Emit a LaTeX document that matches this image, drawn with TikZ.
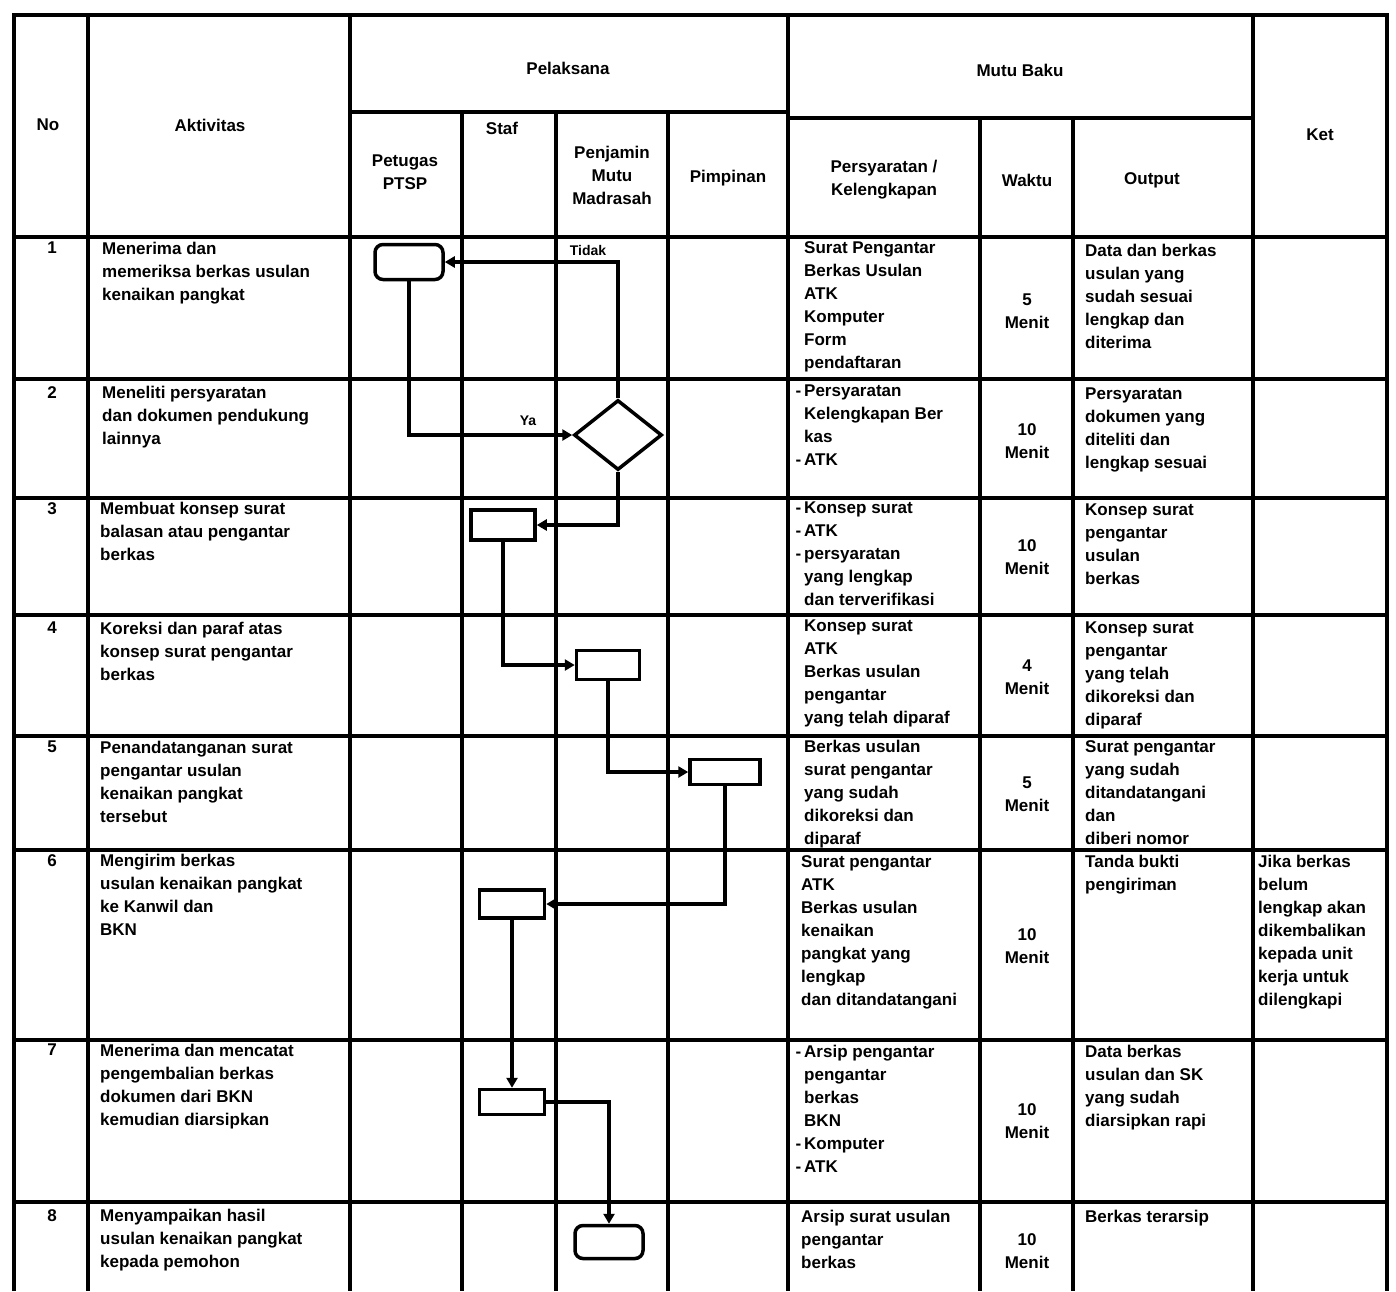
\documentclass[tikz,border=0pt]{standalone}
\usepackage{fontspec}
\setmainfont{Liberation Sans}
\usetikzlibrary{arrows.meta,shapes.geometric}
\begin{document}
\begin{tikzpicture}[x=1pt,y=-1pt,
  gridline/.style={line width=4pt},
  txt/.style={font=\fontsize{17}{23}\selectfont\bfseries, align=left, anchor=north west, inner sep=0pt},
  mtxt/.style={font=\fontsize{17}{23}\selectfont\bfseries, align=left, anchor=north west, inner sep=0pt},
  ctxt/.style={font=\fontsize{17}{23}\selectfont\bfseries, align=center, inner sep=0pt},
  lbl/.style={font=\fontsize{14}{16}\selectfont\bfseries, inner sep=0pt},
  proc/.style={draw, line width=3.5pt, fill=white, rectangle, inner sep=0pt},
  term/.style={proc, rounded corners=8pt},
  decision/.style={draw, diamond, line width=3.5pt, fill=white, inner sep=0pt},
  flow/.style={line width=3.5pt, -{Triangle[length=10pt,width=11pt]}}
]
\useasboundingbox (0,0) rectangle (1396,1291);

% ---------- table grid ----------
\draw[gridline] (14,1291) -- (14,15) -- (1387,15) -- (1387,1291);
\draw[gridline] (88,15) -- (88,1291);
\draw[gridline] (350,15) -- (350,1291);
\draw[gridline] (788,15) -- (788,1291);
\draw[gridline] (1253,15) -- (1253,1291);
\draw[gridline] (350,112) -- (788,112);
\draw[gridline] (462,112) -- (462,1291);
\draw[gridline] (556,112) -- (556,1291);
\draw[gridline] (668,112) -- (668,1291);
\draw[gridline] (788,118) -- (1253,118);
\draw[gridline] (980,118) -- (980,1291);
\draw[gridline] (1073,118) -- (1073,1291);
\foreach \yy in {237,379,498,615,736,850,1040,1202}
  \draw[gridline] (14,\yy) -- (1387,\yy);

% ---------- headers ----------
\node[ctxt] (hno) at (48,125) {No};
\node[ctxt] (hakt) at (210,125) {Aktivitas};
\node[ctxt] (hpel) at (568,68) {Pelaksana};
\node[ctxt] (hp1) at (405,172) {Petugas\\PTSP};
\node[ctxt] (hp2) at (502,128) {Staf};
\node[ctxt] (hp3) at (612,175) {Penjamin\\Mutu\\Madrasah};
\node[ctxt] (hp4) at (728,178) {Pimpinan};
\node[ctxt] (hmb) at (1020,70) {Mutu Baku};
\node[ctxt] (hm1) at (884,180) {Persyaratan /\\Kelengkapan};
\node[ctxt] (hm2) at (1027,180) {Waktu};
\node[ctxt] (hm3) at (1152,180) {Output};
\node[ctxt] (hket) at (1320,135) {Ket};

% ---------- row numbers ----------
\node[ctxt, anchor=north] (n1) at (52,242) {1};
\node[ctxt, anchor=north] (n2) at (52,386) {2};
\node[ctxt, anchor=north] (n3) at (52,502) {3};
\node[ctxt, anchor=north] (n4) at (52,622) {4};
\node[ctxt, anchor=north] (n5) at (52,741) {5};
\node[ctxt, anchor=north] (n6) at (52,854) {6};
\node[ctxt, anchor=north] (n7) at (52,1044) {7};
\node[ctxt, anchor=north] (n8) at (52,1209) {8};

% ---------- activities ----------
\node[txt] (a1) at (102,242) {Menerima dan\\memeriksa berkas usulan\\kenaikan pangkat};
\node[txt] (a2) at (102,386) {Meneliti persyaratan\\dan dokumen pendukung\\lainnya};
\node[txt] (a3) at (100,502) {Membuat konsep surat\\balasan atau pengantar\\berkas};
\node[txt] (a4) at (100,622) {Koreksi dan paraf atas\\konsep surat pengantar\\berkas};
\node[txt] (a5) at (100,741) {Penandatanganan surat\\pengantar usulan\\kenaikan pangkat\\tersebut};
\node[txt] (a6) at (100,854) {Mengirim berkas\\usulan kenaikan pangkat\\ke Kanwil dan\\BKN};
\node[txt] (a7) at (100,1044) {Menerima dan mencatat\\pengembalian berkas\\dokumen dari BKN\\kemudian diarsipkan};
\node[txt] (a8) at (100,1209) {Menyampaikan hasil\\usulan kenaikan pangkat\\kepada pemohon};

% ---------- persyaratan / kelengkapan ----------
\node[mtxt] (p1) at (804,241) {Surat Pengantar\\Berkas Usulan\\ATK\\Komputer\\Form\\pendaftaran};
\node[mtxt] (p2) at (804,385) {\llap{-\,}Persyaratan\\Kelengkapan Ber\\kas\\\llap{-\,}ATK};
\node[mtxt] (p3) at (804,502) {\llap{-\,}Konsep surat\\\llap{-\,}ATK\\\llap{-\,}persyaratan\\yang lengkap\\dan terverifikasi};
\node[mtxt] (p4) at (804,620) {Konsep surat\\ATK\\Berkas usulan\\pengantar\\yang telah diparaf};
\node[mtxt] (p5) at (804,740) {Berkas usulan\\surat pengantar\\yang sudah\\dikoreksi dan\\diparaf};
\node[mtxt] (p6) at (801,855) {Surat pengantar\\ATK\\Berkas usulan\\kenaikan\\pangkat yang\\lengkap\\dan ditandatangani};
\node[mtxt] (p7) at (804,1045) {\llap{-\,}Arsip pengantar\\pengantar\\berkas\\BKN\\\llap{-\,}Komputer\\\llap{-\,}ATK};
\node[mtxt] (p8) at (801,1210) {Arsip surat usulan\\pengantar\\berkas};

% ---------- waktu ----------
\node[ctxt] (w1) at (1027,311) {5\\Menit};
\node[ctxt] (w2) at (1027,441) {10\\Menit};
\node[ctxt] (w3) at (1027,557) {10\\Menit};
\node[ctxt] (w4) at (1027,677) {4\\Menit};
\node[ctxt] (w5) at (1027,794) {5\\Menit};
\node[ctxt] (w6) at (1027,946) {10\\Menit};
\node[ctxt] (w7) at (1027,1121) {10\\Menit};
\node[ctxt] (w8) at (1027,1251) {10\\Menit};

% ---------- output ----------
\node[mtxt] (o1) at (1085,244) {Data dan berkas\\usulan yang\\sudah sesuai\\lengkap dan\\diterima};
\node[mtxt] (o2) at (1085,388) {Persyaratan\\dokumen yang\\diteliti dan\\lengkap sesuai};
\node[mtxt] (o3) at (1085,504) {Konsep surat\\pengantar\\usulan\\berkas};
\node[mtxt] (o4) at (1085,622) {Konsep surat\\pengantar\\yang telah\\dikoreksi dan\\diparaf};
\node[mtxt] (o5) at (1085,740) {Surat pengantar\\yang sudah\\ditandatangani\\dan\\diberi nomor};
\node[mtxt] (o6) at (1085,855) {Tanda bukti\\pengiriman};
\node[mtxt] (o7) at (1085,1045) {Data berkas\\usulan dan SK\\yang sudah\\diarsipkan rapi};
\node[mtxt] (o8) at (1085,1210) {Berkas terarsip};

% ---------- keterangan ----------
\node[mtxt] (k6) at (1258,855) {Jika berkas\\belum\\lengkap akan\\dikembalikan\\kepada unit\\kerja untuk\\dilengkapi};

% ---------- flowchart shapes ----------
\node[term, minimum width=68pt, minimum height=35pt] (t1) at (409,262) {};
\node[decision, minimum width=88pt, minimum height=70pt] (d1) at (618,435) {};
\node[proc, minimum width=64pt, minimum height=30pt] (r3) at (503,525) {};
\node[proc, minimum width=63pt, minimum height=29pt] (r4) at (608,665) {};
\node[proc, minimum width=70pt, minimum height=25pt] (r5) at (725,772) {};
\node[proc, minimum width=65pt, minimum height=28pt] (r6) at (512,904) {};
\node[proc, minimum width=65pt, minimum height=25pt] (r7) at (512,1102) {};
\node[term, minimum width=68pt, minimum height=33pt] (t8) at (609,1242) {};

% ---------- connectors ----------
\draw[flow] (d1.north) |- (t1.east);
\draw[flow] (t1.south) |- (d1.west);
\draw[flow] (d1.south) |- (r3.east);
\draw[flow] (r3.south) |- (r4.west);
\draw[flow] (r4.south) |- (r5.west);
\draw[flow] (r5.south) |- (r6.east);
\draw[flow] (r6.south) -- (r7.north);
\draw[flow] (r7.east) -| (t8.north);

\node[lbl] (ltidak) at (588,250) {Tidak};
\node[lbl] (lya) at (528,421) {Ya};
\end{tikzpicture}
\end{document}
